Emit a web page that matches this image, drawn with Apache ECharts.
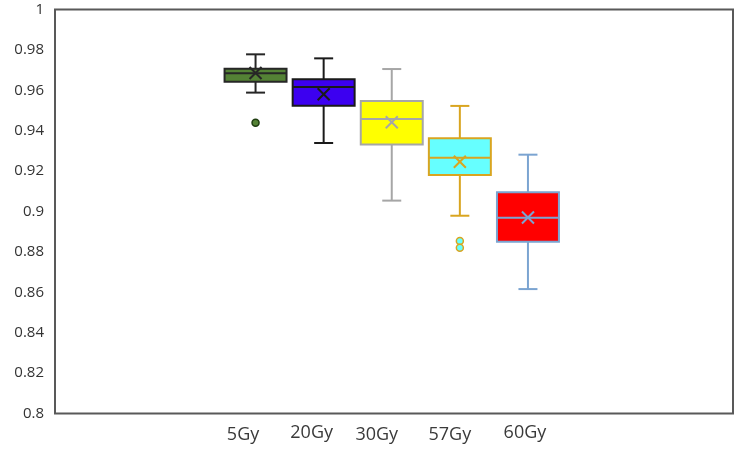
<!DOCTYPE html>
<html>
<head>
<meta charset="utf-8">
<script src="https://cdn.jsdelivr.net/npm/echarts@6/dist/echarts.min.js"></script>
<style>
  html, body { margin: 0; padding: 0; background: #fff; }
  #chart { width: 744px; height: 453px; }
</style>
</head>
<body>
<div id="chart"></div>
<script>
  // values
  var categories = ['5Gy', '20Gy', '30Gy', '57Gy', '60Gy'];
  var whiskerLow = [0.959, 0.934, 0.9054, 0.8979, 0.8615];
  var q1 = [0.9644, 0.9525, 0.9332, 0.9181, 0.885];
  var median = [0.9686, 0.9618, 0.9459, 0.9267, 0.8969];
  var q3 = [0.9709, 0.9656, 0.9548, 0.9363, 0.9095];
  var whiskerHigh = [0.978, 0.976, 0.9707, 0.9524, 0.9282];
  var means = [0.9687, 0.9582, 0.9443, 0.9247, 0.897];
  var outliers = [[0, 0.9441], [3, 0.8854], [3, 0.882]];
  var yTicks = { min: 0.8, max: 1, interval: 0.02 };

  var fills = ['#548235', '#3c00f0', '#ffff00', '#66ffff', '#ff0000'];
  var strokes = ['#262626', '#1a1a1a', '#a6a6a6', '#d9a520', '#7ba4d1'];

  var boxData = categories.map(function (c, i) {
    return [i, whiskerLow[i], q1[i], median[i], q3[i], whiskerHigh[i], means[i]];
  });

  function renderBox(params, api) {
    var i = api.value(0);
    var x = api.coord([i, api.value(3)])[0];
    var band = api.size([1, 0])[0];
    var half = band * 0.455;
    var cap = 9.5;
    var yLow = api.coord([i, api.value(1)])[1];
    var yQ1 = api.coord([i, api.value(2)])[1];
    var yMed = api.coord([i, api.value(3)])[1];
    var yQ3 = api.coord([i, api.value(4)])[1];
    var yHigh = api.coord([i, api.value(5)])[1];
    var yMean = api.coord([i, api.value(6)])[1];
    var s = strokes[i];
    var line = { stroke: s, lineWidth: 2 };
    var m = 6;
    return {
      type: 'group',
      children: [
        { type: 'line', shape: { x1: x, y1: yHigh, x2: x, y2: yQ3 }, style: line },
        { type: 'line', shape: { x1: x, y1: yQ1, x2: x, y2: yLow }, style: line },
        { type: 'line', shape: { x1: x - cap, y1: yHigh, x2: x + cap, y2: yHigh }, style: line },
        { type: 'line', shape: { x1: x - cap, y1: yLow, x2: x + cap, y2: yLow }, style: line },
        { type: 'rect', shape: { x: x - half, y: yQ3, width: half * 2, height: yQ1 - yQ3 },
          style: { fill: fills[i], stroke: s, lineWidth: 2 } },
        { type: 'line', shape: { x1: x - half, y1: yMed, x2: x + half, y2: yMed }, style: line },
        { type: 'line', shape: { x1: x - m, y1: yMean - m, x2: x + m, y2: yMean + m }, style: line },
        { type: 'line', shape: { x1: x - m, y1: yMean + m, x2: x + m, y2: yMean - m }, style: line }
      ]
    };
  }

  // small per-label nudges so the texts sit where they do in the picture
  var labelShift = [25, 24, 30, 20, 6];
  var labelDown = [2, 0, 2, 2, 0];
  var xLabels = categories.map(function (c, i) {
    return { value: c, textStyle: { padding: [labelDown[i], labelShift[i], 0, 0] } };
  });

  var chart = echarts.init(document.getElementById('chart'));
  var option = {
    animation: false,
    grid: [
      { left: 55, right: 11, top: 9.5, height: 404, show: true, borderColor: '#595959', borderWidth: 2 },
      { left: 221.5, right: 182, top: 10, height: 403 }
    ],
    xAxis: [
      { gridIndex: 0, type: 'value', min: 0, max: 1, show: false },
      {
        gridIndex: 1, type: 'category', data: xLabels, boundaryGap: true,
        axisLine: { show: false }, axisTick: { show: false },
        axisLabel: { color: '#3a3a3a', fontSize: 18, fontFamily: 'Open Sans', margin: 11, interval: 0 }
      }
    ],
    yAxis: [
      {
        gridIndex: 0, type: 'value', min: yTicks.min, max: yTicks.max, interval: yTicks.interval,
        axisLine: { show: false }, axisTick: { show: false }, splitLine: { show: false },
        axisLabel: { color: '#333', fontSize: 15, fontFamily: 'Open Sans', margin: 11 }
      },
      { gridIndex: 1, type: 'value', min: yTicks.min, max: yTicks.max, show: false }
    ],
    series: [
      {
        type: 'custom', xAxisIndex: 1, yAxisIndex: 1,
        renderItem: renderBox, data: boxData, encode: { x: 0, y: [1, 2, 3, 4, 5, 6] }
      },
      {
        type: 'scatter', xAxisIndex: 1, yAxisIndex: 1, symbol: 'circle', symbolSize: 7,
        data: outliers.map(function (o) {
          return { value: o, itemStyle: { color: fills[o[0]], borderColor: o[0] === 0 ? '#1f3d10' : strokes[o[0]], borderWidth: 1.5, opacity: 1 } };
        })
      }
    ]
  };
  chart.setOption(option);
  window.addEventListener('resize', function () {
    chart.resize();
  });
</script>
</body>
</html>
